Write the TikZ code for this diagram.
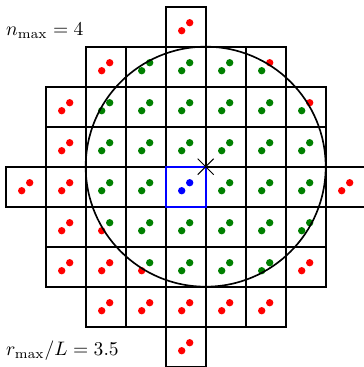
\documentclass[tikz,border=0pt]{standalone}
\usepackage{amsmath, amssymb}
\usepackage{xcolor}
\usepackage{tikz}
\usetikzlibrary{shapes.misc}

\definecolor{dotin}{RGB}{0,128,0}
\definecolor{dotout}{RGB}{255,0,0}
\definecolor{dotcen}{RGB}{0,0,255}

\begin{document}
\begin{tikzpicture}[
      x=0.72cm, y=0.72cm,
      cell/.style={draw, line width=1.1pt},
      cencell/.style={draw=dotcen, line width=1.1pt},
      pt/.style={fill=#1},
      lbl/.style={anchor=base west, inner sep=0pt},
      xmark/.style={draw, cross out, line width=0.5pt, minimum size=0.27cm, inner sep=0pt},
    ]
    \useasboundingbox (-5.1425,-5.0075) rectangle (3.9325,4.1675);
    % cells with |n| <= 4
    \foreach \i in {-4,...,4}{
      \foreach \j in {-4,...,4}{
        \pgfmathtruncatemacro{\inside}{\i*\i+\j*\j<=16}
        \ifnum\inside=1
          \draw[cell] (\i-1,\j-1) rectangle (\i,\j);
          \pgfmathtruncatemacro{\ina}{(\i-0.6)^2+(\j-0.6)^2<=9}
          \pgfmathtruncatemacro{\inb}{(\i-0.4)^2+(\j-0.4)^2<=9}
          \ifnum\ina=1 \def\cola{dotin}\else\def\cola{dotout}\fi
          \ifnum\inb=1 \def\colb{dotin}\else\def\colb{dotout}\fi
          \ifnum\i=0 \ifnum\j=0 \def\cola{dotcen}\def\colb{dotcen}\fi\fi
          \fill[pt=\cola] (\i-0.6,\j-0.6) circle (0.092);
          \fill[pt=\colb] (\i-0.4,\j-0.4) circle (0.092);
        \fi
      }
    }
    \draw[cencell] (-1,-1) rectangle (0,0);
    \node[xmark] (cntr) at (0,0) {};
    \draw[line width=0.85pt] (cntr.center) circle (3);
    \node[lbl] (nmax) at (-5,3.29) {$n_{\max}=4$};
    \node[lbl] (rmax) at (-5,-4.73) {$r_{\max}/L=3.5$};
  \end{tikzpicture}
\end{document}
